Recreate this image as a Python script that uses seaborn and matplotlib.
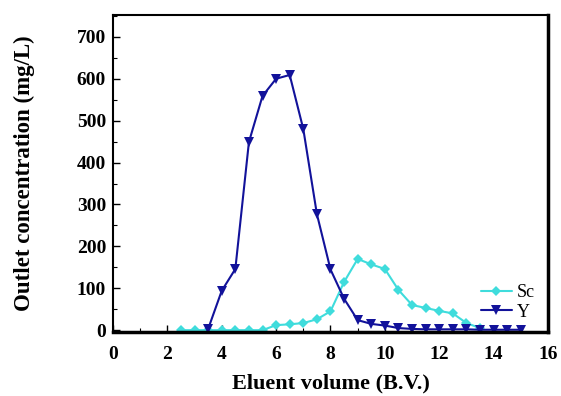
import matplotlib
matplotlib.use("Agg")
import matplotlib.pyplot as plt
from matplotlib.ticker import MultipleLocator
import seaborn as sns
import pandas as pd

sc_x = [2.5, 3.0, 3.5, 4.0, 4.5, 5.0, 5.5, 6.0, 6.5, 7.0, 7.5, 8.0, 8.5, 9.0, 9.5,
        10.0, 10.5, 11.0, 11.5, 12.0, 12.5, 13.0, 13.5]
sc_y = [0, 0, 0, 0, 0, 0, 0, 12, 14, 17, 26, 45, 115, 170, 157,
        146, 96, 60, 53, 46, 40, 17, 5]
y_x = [3.5, 4.0, 4.5, 5.0, 5.5, 6.0, 6.5, 7.0, 7.5, 8.0, 8.5, 9.0, 9.5, 10.0, 10.5,
       11.0, 11.5, 12.0, 12.5, 13.0, 13.5, 14.0, 14.5, 15.0]
y_y = [3, 94, 146, 449, 559, 600, 609, 480, 277, 145, 75, 24, 15, 11, 5,
       3, 2, 2, 2, 2, 1, 1, 1, 1]

x_ticks = [0, 2, 4, 6, 8, 10, 12, 14, 16]
y_ticks = [0, 100, 200, 300, 400, 500, 600, 700]

sns.set_theme(style="white")
plt.rcParams['font.family'] = ['Liberation Serif', 'DejaVu Serif']
plt.rcParams['text.color'] = 'black'
plt.rcParams['axes.labelcolor'] = 'black'
plt.rcParams['xtick.color'] = 'black'
plt.rcParams['ytick.color'] = 'black'
plt.rcParams['xtick.labelcolor'] = 'black'
plt.rcParams['ytick.labelcolor'] = 'black'

fig = plt.figure(figsize=(5.61, 3.96), dpi=100)
ax = fig.add_axes([0.2014, 0.162, 0.7754, 0.800])

df_sc = pd.DataFrame({"x": sc_x, "y": sc_y})
df_y = pd.DataFrame({"x": y_x, "y": y_y})
sns.lineplot(data=df_sc, x="x", y="y", ax=ax, color="#3fdcdc", marker="D",
             markersize=5.5, markeredgewidth=0, linewidth=1.5, label="Sc")
sns.lineplot(data=df_y, x="x", y="y", ax=ax, color="#12129a", marker="v",
             markersize=7, markeredgewidth=0, linewidth=1.5, label="Y")

ax.set_xlim(0, 16)
ax.set_ylim(-4, 752)
ax.set_xticks(x_ticks)
ax.set_yticks(y_ticks)
ax.xaxis.set_minor_locator(MultipleLocator(1))
ax.yaxis.set_minor_locator(MultipleLocator(50))
ax.tick_params(axis="both", which="major", direction="in", length=5, width=1,
               color="black", labelcolor="black", labelsize=14, bottom=True, left=True)
ax.tick_params(axis="x", which="major", pad=10)
ax.tick_params(axis="y", which="major", pad=5)
ax.tick_params(axis="both", which="minor", direction="in", length=3, width=0.8,
               color="black", bottom=True, left=True)
for lab in ax.get_xticklabels() + ax.get_yticklabels():
    lab.set_fontweight("bold")

for side, sp in ax.spines.items():
    sp.set_color("black")
    sp.set_linewidth(1.5)
ax.spines["right"].set_linewidth(2.5)
ax.spines["bottom"].set_linewidth(2.5)

ax.set_xlabel("Eluent volume (B.V.)", fontsize=16, fontweight="bold", labelpad=8,
              color="black")
ax.set_ylabel("Outlet concentration (mg/L)", fontsize=16.5, fontweight="bold",
              labelpad=30, color="black")

leg = ax.legend(loc="lower right", bbox_to_anchor=(1.0, -0.005), frameon=False,
                fontsize=13, handlelength=1.7, handletextpad=0.3, labelspacing=0.15,
                borderaxespad=0.3, labelcolor="black")

fig.savefig("out.png", dpi=100)
